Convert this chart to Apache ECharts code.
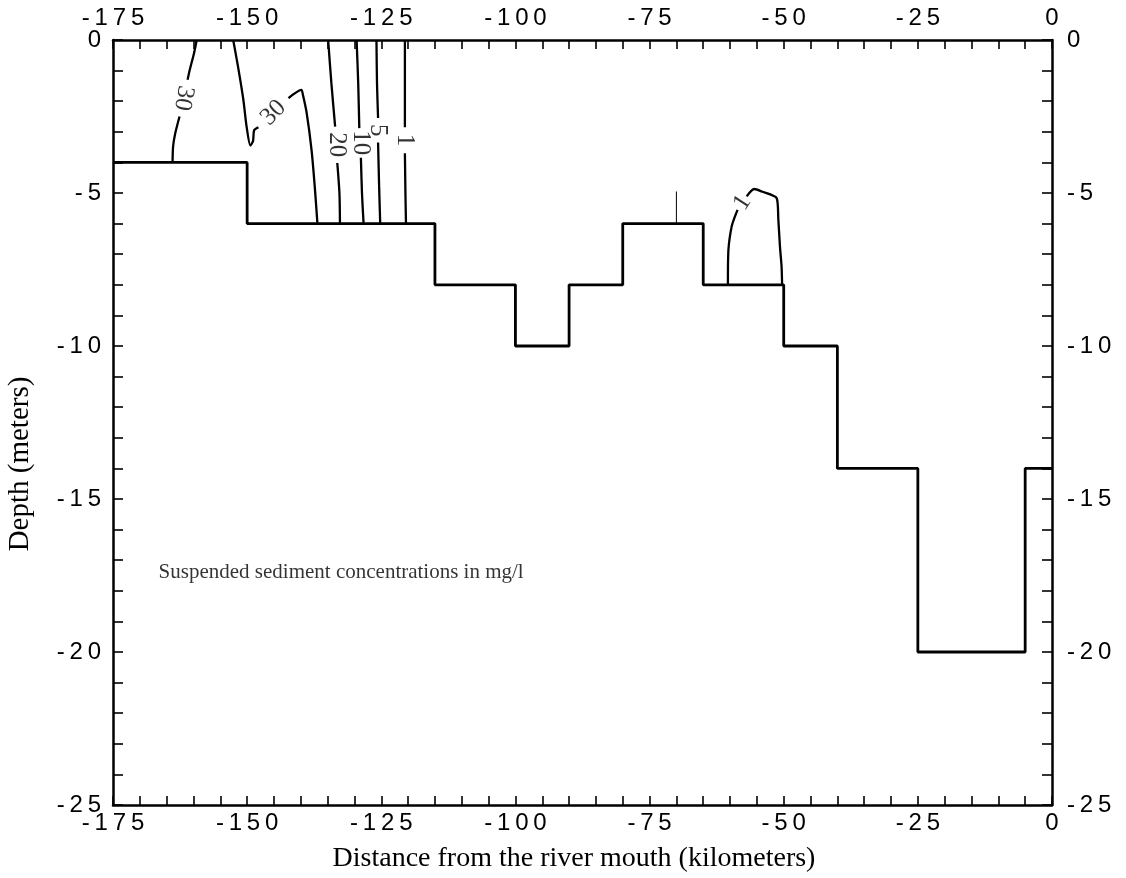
<!DOCTYPE html>
<html>
<head>
<meta charset="utf-8">
<title>Suspended sediment concentrations</title>
<script src="https://cdn.jsdelivr.net/npm/echarts@6/dist/echarts.min.js"></script>
<style>
  html, body { margin: 0; padding: 0; background: #fff; }
  #chart { width: 1126px; height: 878px; }
</style>
</head>
<body>
<div id="chart"></div>
<script>
// Axis ticks (km from the river mouth, depth in metres)
const distanceTicks = [-175, -150, -125, -100, -75, -50, -25, 0];
const depthTicks = [0, -5, -10, -15, -20, -25];

// River bed profile: start of each reach and its depth (stepwise)
const bedDistance = [-175, -150, -115, -100, -90, -80, -65, -50, -40, -25, -5, 0];
const bedDepth    = [-4,   -6,   -8,   -10,  -8,   -6,   -8,   -10,  -14,  -20,  -14, -14];

// Iso-concentration lines (mg/l), each split around its label
const c30West = [
  [[-159.4, 0], [-159.9, -0.43], [-160.7, -0.98], [-161.1, -1.3]],
  [[-162.6, -2.5], [-163.4, -3.05], [-163.8, -3.48], [-163.9, -4]]
];
const c30Mid = [
  [[-152.6, 0], [-151.7, -0.87], [-150.7, -1.96], [-150.1, -2.83], [-149.4, -3.45],
   [-148.9, -3.3], [-148.7, -2.95], [-147.9, -2.85]],
  [[-142.3, -1.9], [-139.9, -1.63], [-139.6, -1.8], [-138.9, -2.39], [-138.0, -3.59],
   [-137.4, -4.79], [-136.9, -6]]
];
const c20 = [
  [[-134.9, 0], [-134.3, -1.41], [-133.6, -2.83]],
  [[-133.2, -4.02], [-132.8, -5], [-132.7, -6]]
];
const c10 = [
  [[-129.6, 0], [-129.3, -1.41], [-129.1, -2.88]],
  [[-128.8, -3.85], [-128.6, -5], [-128.3, -6]]
];
const c5 = [
  [[-125.9, 0], [-125.8, -1.4], [-125.6, -2.55]],
  [[-125.6, -3.35], [-125.4, -4.8], [-125.2, -6]]
];
const c1West = [
  [[-120.6, 0], [-120.6, -1.4], [-120.6, -2.85]],
  [[-120.6, -3.7], [-120.5, -5], [-120.4, -6]]
];
const c1East = [
  [[-60.4, -8], [-60.3, -6.85], [-59.7, -6.09], [-59.1, -5.77], [-58.6, -5.55]],
  [[-56.9, -5.11], [-55.5, -4.87], [-54.1, -4.95], [-51.3, -5.17], [-51.0, -5.87],
   [-50.7, -6.75], [-50.4, -7.4], [-50.3, -8]]
];
// Station marker
const stationMark = [[-70, -4.95], [-70, -6]];

// Contour labels: [distance, depth, text, rotation]
const contourLabels = [
  [-161.85, -1.9, '30', -100],
  [-145.1, -2.38, '30', 45],
  [-133.3, -3.42, '20', -90],
  [-128.95, -3.36, '10', -90],
  [-125.75, -2.95, '5', -90],
  [-120.75, -3.27, '1', -90],
  [-57.7, -5.32, '1', 57]
];

const noteText = 'Suspended sediment concentrations in mg/l';
const noteAt = [-166.5, -17.4];
const xTitle = 'Distance from the river mouth (kilometers)';
const yTitle = 'Depth (meters)';

const spaced = v => String(v).split('').join('\u2009');
const tickFont = { fontFamily: 'Liberation Sans', fontSize: 24, color: '#000' };

function xAxisDef(pos, extra) {
  return Object.assign({
    type: 'value', position: pos, min: -175, max: 0, interval: 25,
    axisLine: { show: true, onZero: false, lineStyle: { color: '#000', width: 2.5 } },
    axisTick: { show: true, inside: true, length: 9, lineStyle: { color: '#000', width: 1.6 } },
    minorTick: { show: true, splitNumber: 5, length: 9, lineStyle: { color: '#000', width: 1.6 } },
    splitLine: { show: false }
  }, extra);
}
function yAxisDef(pos, extra) {
  return Object.assign({
    type: 'value', position: pos, min: -25, max: 0, interval: 5,
    axisLine: { show: true, onZero: false, lineStyle: { color: '#000', width: 2.5 } },
    axisTick: { show: true, inside: true, length: 10, lineStyle: { color: '#000', width: 1.6 } },
    minorTick: { show: true, splitNumber: 5, length: 10, lineStyle: { color: '#000', width: 1.6 } },
    splitLine: { show: false }
  }, extra);
}
const xLabel = margin => Object.assign({ margin, formatter: v => distanceTicks.includes(v) ? spaced(v) : '' }, tickFont);
const yLabel = margin => Object.assign({ margin, formatter: v => depthTicks.includes(v) ? spaced(v) : '' }, tickFont);

const lineSeries = [];
function addContour(segments) {
  segments.forEach(seg => {
    lineSeries.push({
      type: 'line', data: seg, showSymbol: false, smooth: 0.25,
      lineStyle: { color: '#000', width: 2.3 }, silent: true, z: 3
    });
  });
}
[c30West, c30Mid, c20, c10, c5, c1West, c1East].forEach(addContour);
lineSeries.push({
  type: 'line', data: stationMark, showSymbol: false,
  lineStyle: { color: '#000', width: 1 }, silent: true
});

const chart = echarts.init(document.getElementById('chart'), null, { renderer: 'canvas' });
chart.setOption({
  backgroundColor: '#fff',
  animation: false,
  grid: { left: 113, right: 74, top: 40, bottom: 72 },
  xAxis: [
    xAxisDef('bottom', {
      name: xTitle, nameLocation: 'middle', nameGap: 40,
      nameTextStyle: { fontFamily: 'Liberation Serif', fontSize: 28, color: '#000', padding: [0, 17, 0, 0] },
      axisLabel: xLabel(6)
    }),
    xAxisDef('top', { axisLabel: xLabel(10) })
  ],
  yAxis: [
    yAxisDef('left', { axisLabel: yLabel(12) }),
    yAxisDef('right', { axisLabel: yLabel(15) })
  ],
  graphic: [{
    type: 'text', x: 20, y: 464, rotation: Math.PI / 2,
    style: {
      text: yTitle, fill: '#000', font: '29px "Liberation Serif"',
      textAlign: 'center', textVerticalAlign: 'middle'
    }
  }],
  series: [
    {
      type: 'line', step: 'end', showSymbol: false, silent: true, z: 4,
      data: bedDistance.map((d, i) => [d, bedDepth[i]]),
      lineStyle: { color: '#000', width: 2.8 }
    },
    ...lineSeries,
    {
      type: 'scatter', symbolSize: 0, silent: true, z: 5,
      data: contourLabels.map(l => ({
        value: [l[0], l[1]],
        label: { show: true, position: 'inside', formatter: l[2], rotate: l[3] }
      })),
      label: { fontFamily: 'Liberation Serif', fontSize: 25, color: '#000' }
    },
    {
      type: 'scatter', symbolSize: 0, silent: true,
      data: [{ value: noteAt, label: { show: true, position: 'right', distance: 0, formatter: noteText } }],
      label: { fontFamily: 'Liberation Serif', fontSize: 21, color: '#000' }
    }
  ]
});
</script>
</body>
</html>
